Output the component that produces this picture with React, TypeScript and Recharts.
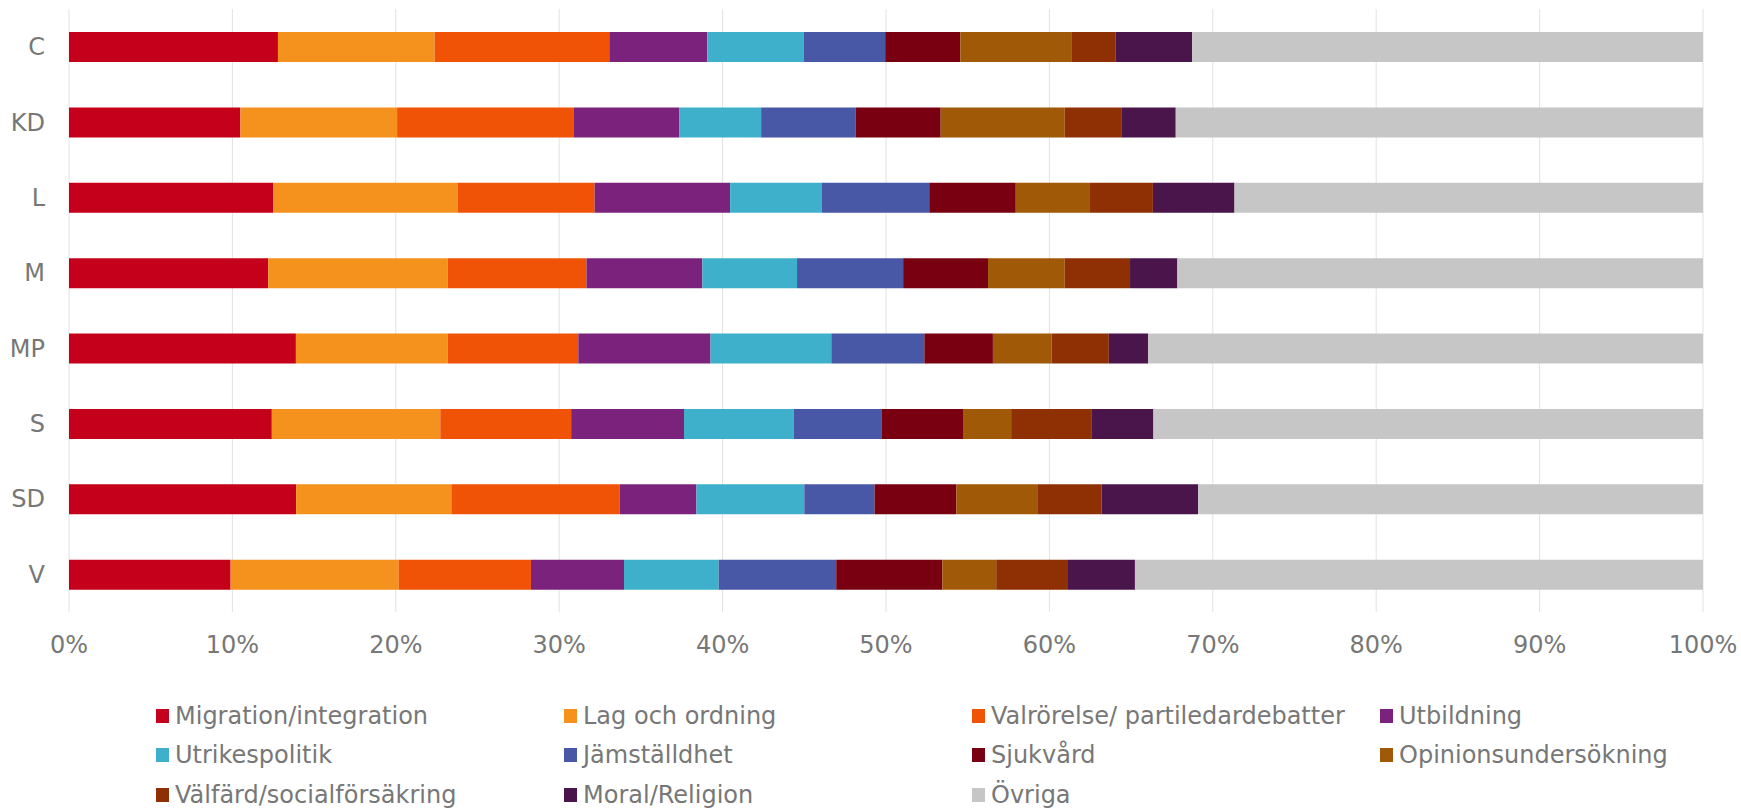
import { BarChart, Bar, XAxis, YAxis, CartesianGrid } from 'recharts'

const parties = ['C', 'KD', 'L', 'M', 'MP', 'S', 'SD', 'V']

const topics = [
  'Migration/integration',
  'Lag och ordning',
  'Valrörelse/ partiledardebatter',
  'Utbildning',
  'Utrikespolitik',
  'Jämställdhet',
  'Sjukvård',
  'Opinionsundersökning',
  'Välfärd/socialförsäkring',
  'Moral/Religion',
  'Övriga',
]

const colors = [
  '#C5001A',
  '#F5921E',
  '#F05206',
  '#7B237C',
  '#3EB0CB',
  '#4857A6',
  '#780010',
  '#A05906',
  '#8E3004',
  '#4A154B',
  '#C6C6C6',
]

// share per party, in the order of `parties`
const migration = [12.8, 10.5, 12.5, 12.2, 13.9, 12.4, 13.9, 9.9]
const lagOrdning = [9.6, 9.6, 11.3, 11.0, 9.3, 10.3, 9.5, 10.3]
const valrorelse = [10.7, 10.8, 8.4, 8.5, 8.0, 8.0, 10.3, 8.1]
const utbildning = [6.0, 6.5, 8.3, 7.1, 8.1, 6.9, 4.7, 5.7]
const utrikes = [5.9, 5.0, 5.6, 5.8, 7.4, 6.7, 6.6, 5.8]
const jamstalldhet = [5.0, 5.8, 6.6, 6.5, 5.7, 5.4, 4.3, 7.2]
const sjukvard = [4.6, 5.2, 5.3, 5.2, 4.2, 5.0, 5.0, 6.5]
const opinion = [6.8, 7.6, 4.5, 4.7, 3.6, 2.9, 5.0, 3.3]
const valfard = [2.7, 3.5, 3.9, 4.0, 3.5, 4.9, 3.9, 4.4]
const moral = [4.7, 3.3, 5.0, 2.9, 2.4, 3.8, 5.9, 4.1]
const ovriga = [31.3, 32.3, 28.7, 32.2, 34.0, 33.6, 30.9, 34.8]

const series = [
  migration,
  lagOrdning,
  valrorelse,
  utbildning,
  utrikes,
  jamstalldhet,
  sjukvard,
  opinion,
  valfard,
  moral,
  ovriga,
]

const xTicks = [0, 0.1, 0.2, 0.3, 0.4, 0.5, 0.6, 0.7, 0.8, 0.9, 1]

const rows = parties.map((p, i) => {
  const row: Record<string, string | number> = { party: p }
  series.forEach((s, k) => {
    row['s' + k] = s[i]
  })
  return row
})

const font = '"DejaVu Sans", Verdana, sans-serif'
const textColor = '#777777'

function ChartLegend() {
  return (
    <div
      style={{
        position: 'absolute',
        left: 156,
        top: 696,
        display: 'grid',
        gridTemplateColumns: 'repeat(4, 408px)',
        gridAutoRows: '39.5px',
        fontFamily: font,
        fontSize: 24,
        color: textColor,
      }}
    >
      {topics.map((t, k) => (
        <div key={t} style={{ display: 'flex', alignItems: 'center', whiteSpace: 'nowrap' }}>
          <span
            style={{
              display: 'inline-block',
              width: 13,
              height: 14,
              background: colors[k],
              marginRight: 6,
            }}
          />
          {t}
        </div>
      ))}
    </div>
  )
}

export default function App() {
  return (
    <div style={{ position: 'absolute', left: 0, top: 0, width: 1741, height: 808, background: '#fff' }}>
      <BarChart
        width={1741}
        height={808}
        data={rows}
        layout="vertical"
        stackOffset="expand"
        barSize={30}
        margin={{ top: 9, right: 38, bottom: 146, left: 0 }}
      >
        <CartesianGrid horizontal={false} stroke="#E2E2E2" strokeWidth={1} />
        <XAxis
          type="number"
          domain={[0, 1]}
          ticks={xTicks}
          tickFormatter={(v) => `${Math.round(v * 100)}%`}
          axisLine={false}
          tickLine={false}
          tickSize={0}
          tickMargin={24}
          height={50}
          interval={0}
          tick={{ fontSize: 24, fill: textColor, fontFamily: font }}
        />
        <YAxis
          type="category"
          dataKey="party"
          width={69}
          axisLine={false}
          tickLine={false}
          tickSize={0}
          tickMargin={24}
          tick={{ fontSize: 24, fill: textColor, fontFamily: font }}
        />
        {topics.map((t, k) => (
          <Bar
            key={t}
            dataKey={'s' + k}
            name={t}
            stackId="a"
            fill={colors[k]}
            isAnimationActive={false}
          />
        ))}
      </BarChart>
      <ChartLegend />
    </div>
  )
}
